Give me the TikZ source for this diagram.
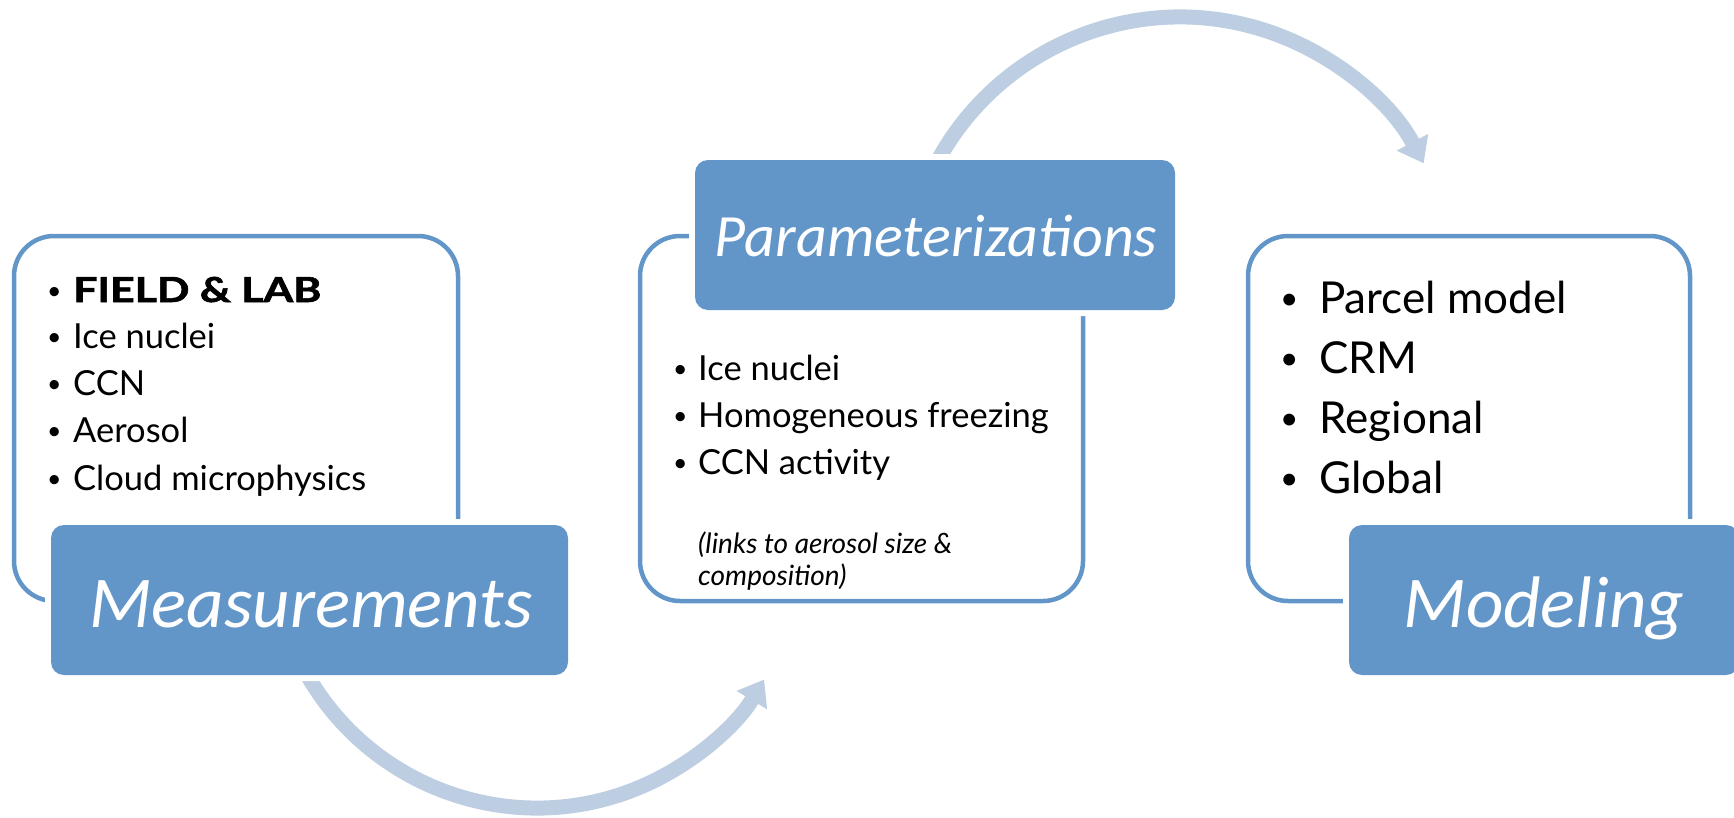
\documentclass[tikz,border=0pt]{standalone}
\usepackage{fontspec}
\setmainfont{Lato}
\newfontfamily\titlefont{Carlito}
\newfontfamily\heavyfont[FakeBold=1.6]{Lato Bold}
\usetikzlibrary{arrows.meta}
\definecolor{boxblue}{RGB}{98,149,200}
\definecolor{arrowblue}{RGB}{190,206,226}
\newcommand{\bul}[3]{\makebox[#1][l]{\hspace{#2}\raisebox{#3}{\scalebox{0.72}{•}}}}
\begin{document}
\begin{tikzpicture}[x=1pt,y=1pt,
  outline/.style={draw=boxblue, line width=4.5pt, rounded corners=40pt, rectangle, anchor=north west, inner sep=0pt, outer sep=0pt},
  titlebox/.style={fill=boxblue, rounded corners=13pt, rectangle, anchor=north west, inner sep=0pt, outer sep=0pt, minimum height=150pt, preaction={draw=white, line width=12pt}},
  cyclearrow/.style={draw=arrowblue, line width=15pt, -{Triangle[width=34pt,length=24pt]}},
  titletext/.style={anchor=base, text=white, inner sep=0pt, font=\titlefont\itshape},
  item/.style={anchor=base west, inner sep=0pt, font=\fontsize{34.5}{40}\selectfont},
  bigitem/.style={anchor=base west, inner sep=0pt, font=\fontsize{44}{52}\selectfont},
  note/.style={anchor=base west, inner sep=0pt, font=\fontsize{28}{32}\selectfont\itshape}
]
\useasboundingbox (0,0) rectangle (1734,-817);

% outline boxes
\node[outline, minimum width=444pt, minimum height=365pt] (lbox) at (14,-236) {};
\node[outline, minimum width=443pt, minimum height=365pt] (mbox) at (640,-236) {};
\node[outline, minimum width=442pt, minimum height=365pt] (rbox) at (1248,-236) {};

% cycle arrows
\coordinate (c1) at (537,-543);
\coordinate (c2) at (1180,-293);
\draw[cyclearrow] ([shift={(205:265)}]c1) arc[start angle=205, end angle=329, radius=265];
\draw[cyclearrow] ([shift={(160:276)}]c2) arc[start angle=160, end angle=28, radius=276];

% title boxes
\node[titlebox, minimum width=517pt] (meas) at (51,-525) {};
\node[titlebox, minimum width=480pt] (param) at (695,-160) {};
\node[titlebox, minimum width=390pt] (model) at (1349,-525) {};

\node[titletext, font=\fontsize{73}{80}\selectfont\titlefont\itshape] (meast) at (311,-627) {Measurements};
\node[titletext, font=\fontsize{60}{66}\selectfont\titlefont\itshape] (paramt) at (936,-256) {Parameterizations};
\node[titletext, font=\fontsize{73}{80}\selectfont\titlefont\itshape] (modelt) at (1544,-627) {Modeling};

% left list
\node[item] (l1) at (50,-302) {\bul{23pt}{-3pt}{3pt}\scalebox{1.24}[1]{\heavyfont FIELD \& LAB}};
\node[item] (l2) at (50,-348) {\bul{23pt}{-3pt}{3pt}Ice nuclei};
\node[item] (l3) at (50,-395) {\bul{23pt}{-3pt}{3pt}CCN};
\node[item] (l4) at (50,-442) {\bul{23pt}{-3pt}{3pt}Aerosol};
\node[item] (l5) at (50,-490) {\bul{23pt}{-3pt}{3pt}Cloud microphysics};

% middle list
\node[item] (m1) at (676,-380) {\bul{22pt}{-3pt}{3pt}Ice nuclei};
\node[item] (m2) at (676,-427) {\bul{22pt}{-3pt}{3pt}Homogeneous freezing};
\node[item] (m3) at (676,-474) {\bul{22pt}{-3pt}{3pt}CCN activity};
\node[note] (m4) at (698,-553) {(links to aerosol size \&};
\node[note] (m5) at (698,-585) {composition)};

% right list
\node[bigitem] (r1) at (1283,-313) {\bul{36pt}{-3pt}{4pt}Parcel model};
\node[bigitem] (r2) at (1283,-373) {\bul{36pt}{-3pt}{4pt}CRM};
\node[bigitem] (r3) at (1283,-433) {\bul{36pt}{-3pt}{4pt}Regional};
\node[bigitem] (r4) at (1283,-493) {\bul{36pt}{-3pt}{4pt}Global};
\end{tikzpicture}
\end{document}
